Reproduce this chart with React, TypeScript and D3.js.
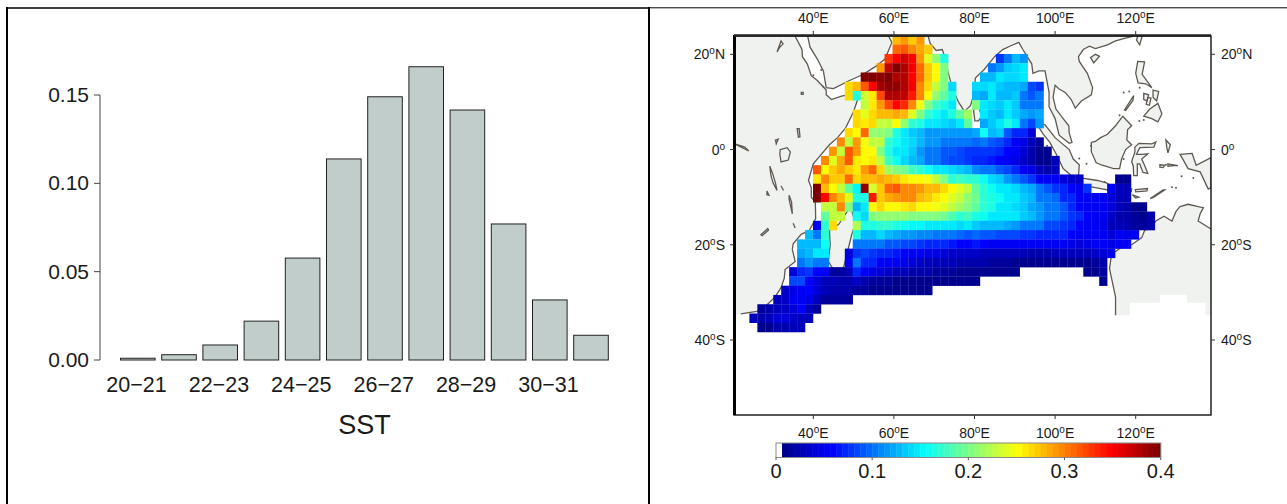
import React from "react";
import * as d3 from "d3";

const _ = null;
// ---------- left panel data
const sstBins = ["20-21","21-22","22-23","23-24","24-25","25-26","26-27","27-28","28-29","29-30","30-31","31-32"];
const sstShown = ["20\u221221","","22\u221223","","24\u221225","","26\u221227","","28\u221229","","30\u221231",""];
const sstValues = [0.001,0.003,0.0085,0.022,0.0577,0.1138,0.149,0.166,0.1415,0.077,0.034,0.014];
const sstTicks = [0,0.05,0.1,0.15];

// ---------- right panel data: one list per grid row; first number = first column
const rowM1 = [10,.28,.29,.27,.29];
const row00 = [10,.31,.315,.30,.285,.27];
const row01 = [9,.33,.35,.365,.35,.29,.24,.21,.165,_,_,_,_,_,_,.08,.10,.125,.115];
const row02 = [8,.29,.37,.395,.38,.355,.31,.27,.255,.20,_,_,_,_,_,.105,.115,.135,.14,.145];
const row03 = [6,.40,.40,.39,.395,.38,.375,.35,.31,.27,.25,.20,_,_,_,_,.125,.13,.15,.14,.14,.145];
const row04 = [4,.265,.28,.315,.345,.385,.39,.39,.38,.355,.30,.265,.23,.20,.14,_,_,.14,.14,.15,.135,.13,.13,.12,.085,.08];
const row05 = [4,.265,.165,.235,.26,.32,.375,.38,.37,.34,.30,.25,.21,.19,.165,_,_,.125,.12,.15,.13,.13,.135,.10,.09,.10];
const row06 = [6,.23,.26,.29,.32,.345,.335,.30,.245,.20,.18,.165,.15,_,_,.20,.145,.14,.135,.145,.135,.105,.105,.105];
const row07 = [5,.265,.24,.265,.28,.28,.285,.275,.24,.20,.175,.16,.15,.165,.19,.215,_,.15,.135,.13,.15,.135,.12,.115,.12];
const row08 = [5,.265,.26,.265,.23,.23,.25,.21,.175,.165,.15,.145,.14,.135,.145,.19,_,.12,.135,.145,.165,.145,.105,.085,.115];
const row09 = [4,.265,.25,.31,.21,.21,.20,.165,.145,.135,.13,.115,.115,.115,.115,.115,.115,.12,.16,.125,.135,.09,.07,.07,.04];
const row10 = [3,.30,.225,.29,.245,.23,.23,.175,.16,.145,.14,.125,.115,.115,.105,.105,.105,.10,.095,.10,.09,.085,.07,.05,.045,.03,.015];
const row11 = [2,.29,.225,.315,.29,.25,.25,.205,.165,.15,.145,.135,.115,.105,.10,.09,.09,.085,.08,.08,.08,.08,.07,.06,.05,.04,.02,.01,.01];
const row12 = [1,.30,.24,.285,.315,.26,.25,.26,.225,.18,.16,.14,.125,.12,.105,.10,.09,.085,.085,.08,.07,.07,.065,.06,.055,.045,.035,.02,.01,.01,.03];
const row13 = [0,.315,.25,.27,.285,.27,.26,.29,.31,.265,.215,.20,.195,.18,.17,.16,.15,.145,.14,.135,.125,.11,.10,.10,.09,.085,.07,.05,.045,.03,.02,.03];
const row14 = [0,.26,.30,.27,.27,.31,.265,.275,.28,.285,.28,.27,.26,.255,.25,.245,.225,.20,.175,.18,.175,.17,.16,.14,.135,.115,.105,.09,.08,.055,.05,.05,.04,.035,.035,_,_,_,_,.01,.01];
const row15 = [0,.40,.28,.25,.225,.19,.155,.39,.235,.27,.31,.315,.30,.295,.29,.28,.28,.265,.25,.24,.225,.19,.17,.16,.15,.145,.14,.125,.12,.105,.09,.08,.07,.06,.05,.08,_,_,.055,.03,.03];
const row16 = [0,.40,.345,.30,.28,.24,.165,.165,.34,.27,.285,.29,.295,.295,.28,.27,.26,.25,.24,.225,.21,.195,.175,.165,.16,.15,.15,.135,.125,.105,.10,.095,.075,.07,.055,.06,.05,.05,.04,.03,.03];
const row17 = [1,.225,.225,.30,.20,.13,.15,.25,.265,.25,.255,.26,.265,.255,.25,.245,.24,.23,.215,.205,.19,.17,.165,.15,.15,.14,.135,.12,.115,.105,.105,.09,.075,.06,.055,.05,.055,.04,.03,.02,.012,.008];
const row18 = [1,.19,.225,.225,_,.16,.14,.20,.21,.21,.21,.21,.20,.20,.20,.20,.195,.185,.175,.18,.165,.16,.15,.15,.15,.15,.135,.125,.115,.105,.10,.09,.08,.07,.06,.055,.05,.035,.02,.02,.015,.01,.02];
const row19 = [0,.055,.175,.265,_,_,.22,.165,.165,.175,.17,.165,.16,.155,.155,.15,.15,.145,.145,.14,.145,.135,.13,.125,.125,.12,.115,.105,.10,.10,.085,.085,.08,.075,.06,.055,.05,.045,.03,.025,.02,.015,.015,.02];
const row20 = [-1,.125,.10,.17,_,_,_,.165,.13,.125,.14,.13,.12,.115,.115,.11,.11,.105,.10,.10,.095,.09,.095,.09,.09,.085,.085,.085,.08,.08,.075,.075,.075,.07,.06,.055,.055,.05,.05,.04,.05,.045,.05];
const row21 = [-2,.125,.13,.125,.16,_,_,_,.105,.105,.105,.10,.09,.09,.085,.085,.08,.075,.07,.07,.065,.06,.06,.065,.06,.055,.055,.05,.05,.05,.05,.05,.05,.05,.05,.045,.04,.045,.05,.05,.045,.05,.05];
const row22 = [-2,.12,.125,.145,.145,_,_,.04,.08,.085,.08,.075,.07,.065,.06,.055,.05,.045,.045,.04,.035,.035,.035,.035,.03,.03,.03,.025,.025,.025,.02,.02,.02,.025,.03,.03,.03,.03,.035,.04,.045];
const row23 = [-2,.105,.115,.105,.10,_,_,.05,.10,.075,.07,.06,.055,.05,.045,.04,.035,.03,.03,.025,.025,.02,.02,.02,.02,.015,.015,.015,.01,.01,.01,.008,.008,.008,.01,.01,.01,.01,.015,.02];
const row24 = [-3,.04,.075,.08,.06,.06,.015,.015,.03,.07,.05,.045,.04,.035,.03,.025,.02,.02,.02,.015,.015,.015,.01,.01,.01,.01,.008,.008,.008,.008,_,_,_,_,_,_,_,_,.01,.01,.015];
const row25 = [-3,.085,.085,.05,.04,.03,.025,.02,.02,.035,.02,.015,.015,.015,.01,.01,.01,.01,.01,.008,.008,.008,.008,.008,.008,_,_,_,_,_,_,_,_,_,_,_,_,_,_,_,.01];
const row26 = [-4,.035,.045,.055,.06,.04,.025,.02,.02,.02,.015,.015,.01,.01,.01,.01,.008,.008,.008,.008];
const row27 = [-5,.025,.035,.05,.05,.045,.025,.015,.015,.015,.015];
const row28 = [-7,.015,.02,.03,.035,.04,.06,.03,.015];
const row29 = [-8,.03,.02,.025,.04,.04,.035,.03,.025];
const row30 = [-7,.01,.01,.02,.02,.025,.03];
const gridRows = [rowM1,row00,row01,row02,row03,row04,row05,row06,row07,row08,row09,row10,row11,row12,row13,row14,row15,row16,row17,row18,row19,row20,row21,row22,row23,row24,row25,row26,row27,row28,row29,row30];

const lonTicks = [40,60,80,100,120];
const latTicks = [[20,"20","N"],[0,"0",""],[-20,"20","S"],[-40,"40","S"]];
const barTicks = [0,0.1,0.2,0.3,0.4];
const jetStops = ["#00008f","#0000ff","#00ffff","#ffff00","#ff0000","#800000"];
const jetDomain = [0,0.125,0.375,0.625,0.875,1];

// ---------- geography in lon/lat
const africa = [[35.5,23.8],[37.2,21],[37.3,19.5],[38.5,18],[39.5,15.5],[41,14.5],[43.2,12.5],[43.2,11.5],[44.5,10.5],[47,11.2],[51.2,11.9],[51,10.5],[50,8],[48,4.5],[46,2.5],[44,1],[41.5,-1.5],[40,-3],[39.3,-5],[38.8,-6.5],[39.5,-8],[39.5,-10],[40.5,-11],[40.6,-14.5],[39,-17],[37,-17.8],[35,-19.8],[34.8,-21],[35.5,-23.5],[33,-25.2],[32.8,-27],[32,-29],[30.5,-31],[28,-33],[26,-34],[22,-34.5],[20.3,-34.8],[20.3,23.8]];
const arabia = [[38.6,23.8],[39.2,21.5],[41,19],[42.5,16.5],[43.2,13],[45,12.8],[49,14.5],[52.2,15.7],[55.2,17.3],[57.8,19],[59.5,22.5],[58.7,23.8]];
const asia = [[68.5,23.8],[69,22.3],[70.5,20.8],[72,21],[72.8,19],[73.5,16],[74.5,13],[76,10],[77.5,8],[79,9.2],[80,12],[80.2,15],[82.3,16.7],[85,19.5],[87,21],[89,21.8],[91,22.5],[92,21],[94.2,18],[94.5,16],[96,16.5],[97.5,16.5],[98.5,12],[98.5,9],[100,6.5],[101,3],[103.5,1.3],[104.2,1.5],[103.5,3.5],[103.4,5],[102,6.5],[100.2,8.5],[99.5,11],[100,13.5],[101,12.7],[102.5,12],[104,10.5],[105,8.7],[106.5,10.2],[109,11.5],[109.3,13],[108,16],[106,18.5],[105.8,19.5],[107,21],[108.5,21.7],[110,21.2],[113,22],[115,22.8],[117,23.3],[119.5,23.8]];
const madagascar = [[49.3,-12],[50.4,-15.5],[49.5,-18],[47.5,-24.8],[45.2,-25.5],[43.7,-23.5],[44.2,-20],[44,-17],[46.3,-15.7],[48,-13.5]];
const sriLanka = [[80,9.7],[81.2,8.5],[81.8,7],[81,6],[80.1,6],[79.8,8]];
const sumatra = [[95.3,5.6],[97.5,5.2],[100,2.5],[103.5,0],[104.5,-2],[106,-3.2],[105.8,-5.8],[104.5,-5.8],[102,-4],[100.3,-1],[98.7,1.5],[97,3.3]];
const java = [[105.2,-6.8],[106.8,-6],[110.5,-6.5],[112.7,-7],[114.4,-7.8],[114.4,-8.7],[110,-8],[106.5,-7.5]];
const borneo = [[109,1.5],[110,1.7],[111.3,2.5],[113,3.2],[115,5],[116.8,7],[119,5],[118,4.2],[117.8,2],[119,1],[117.5,0],[116.5,-2],[116,-4],[114.5,-4],[111.7,-3.3],[110.2,-2.8],[109,-0.5]];
const sulawesi = [[119.8,0.5],[120.8,1.3],[124,1.2],[125,1.6],[124.5,0.5],[121,0.4],[120.2,-1],[121.5,-1],[123,-0.9],[121.5,-2],[122.3,-3.5],[123,-5],[121.8,-4.8],[121,-3],[120.4,-3],[120.4,-5.5],[119.5,-5.5],[119.4,-3.5],[119,-2.5],[119.8,-0.5]];
const luzon = [[120.5,18.5],[122.2,18.4],[121.6,15.8],[124,13],[122.5,13.8],[120.6,14],[120,16]];
const mindanao = [[122,7],[123.5,8.5],[125.5,9.7],[126.5,7.5],[125.5,5.8],[124,6.5]];
const palawan = [[117.2,8.3],[119.5,11.3],[119.3,10.3],[117.5,8.2]];
const panay = [[122,11.8],[123.2,11.5],[122.8,10.2],[122,10.5]];
const leyte = [[124.3,12.5],[125.7,12.2],[125.2,10.2],[124.3,11]];
const cebu = [[123,10.9],[123.8,10.8],[123.4,9.3],[122.6,9.5]];
const taiwan = [[120.2,23],[121,22],[121.6,23.8],[120.5,23.8]];
const hainan = [[108.8,19.3],[110,20],[111,19.6],[109.6,18.2]];
const newGuinea = [[131,-1],[134,-0.8],[135,-3.3],[138.7,-1.7],[138.7,-8],[138,-8.3],[136,-4.7],[133,-4],[132,-2.5]];
const halmahera = [[127.5,2],[128.6,1],[128,-0.7],[127.7,0.5]];
const seram = [[128,-3],[130.5,-3.4],[129.5,-3.4],[128,-3.5]];
const buru = [[126,-3.2],[127.2,-3.3],[126.8,-3.8],[126,-3.7]];
const timor = [[123.6,-10.3],[126.8,-8.5],[127.2,-8.5],[124.5,-10]];
const flores = [[119.9,-8.4],[122.9,-8.2],[122.8,-8.7],[120,-8.9]];
const sumbawa = [[116.1,-8.4],[119,-8.3],[118.9,-8.8],[116.1,-9]];
const sumba = [[119.2,-9.5],[120.8,-10],[120,-10.2]];
const australia = [[115,-34.8],[115,-31],[114,-27],[113.5,-25],[114,-22],[116.5,-20.5],[119,-20],[121.5,-18.5],[122.2,-17],[124,-16.3],[125,-15],[127,-14],[129,-15],[130,-13],[131,-12],[133,-11.5],[135.5,-12],[136.8,-12.2],[136,-13.5],[135.5,-15],[138.7,-16.7]];
const australiaMask = [[138.7,-16.7],[138.7,-34.8],[137.3,-34.8],[137.3,-32.2],[132.7,-32.2],[132.7,-30.5],[126,-30.5],[126,-32.2],[118.6,-32.2],[118.6,-34.8],[115,-34.8]];
const coastShapes = [africa.slice(0,36),arabia,asia,madagascar,sriLanka,sumatra,java,borneo,sulawesi,luzon,mindanao,palawan,panay,leyte,cebu,taiwan,hainan,newGuinea,halmahera,seram,buru,timor,flores,sumbawa,sumba,australia];
const landShapes = [africa,arabia,asia,madagascar,sriLanka,sumatra,java,borneo,sulawesi,luzon,mindanao,palawan,panay,leyte,cebu,taiwan,hainan,newGuinea,halmahera,seram,buru,timor,flores,sumbawa,sumba,[...australia,...australiaMask]];
const openCoastCount = 3;

const lakeVictoria = [[31.8,0],[33.5,0.4],[34.3,-0.5],[33.8,-2.2],[32,-2.6],[31.7,-1]];
const lakeTanganyika = [[29.2,-3.5],[29.5,-5.5],[30,-7],[31,-8.6],[30.6,-7],[29.9,-5]];
const lakeMalawi = [[34,-9.6],[34.6,-11],[34.8,-13.5],[34.4,-12],[34,-10.5]];
const lakeKariba = [[27,-17.9],[28.7,-16.6],[28.9,-16.9],[27.3,-18.1]];
const lakeTurkana = [[36,4.4],[36.3,2.6],[36.7,2.7],[36.5,4.4]];
const lakeTana = [[37,12],[37.5,12],[37.5,11.6],[37,11.6]];
const lakeNasser = [[32.5,22.2],[31.6,21.4],[31,20.5],[32,22.8]];
const nileBend = [[20.5,1.2],[23,0.5],[24,-0.3]];
const lakeNyasaS = [[35,-15.5],[35.5,-16.5]];
const lakeMweru = [[28.5,-8.7],[29,-9.6],[28.5,-9.5]];
const lakeAlbert = [[30.6,2],[31.3,2.2],[30.8,1.2]];
const lakeRukwa = [[32,-7.6],[32.6,-8.6]];
const inlandLines = [lakeVictoria,lakeTanganyika,lakeMalawi,lakeKariba,lakeTurkana,lakeTana,lakeNasser,nileBend,lakeNyasaS,lakeMweru,lakeAlbert,lakeRukwa];
const specks = [[53.8,12.5],[46,-9.4],[43.3,-11.7],[44.3,-12.2],[45.1,-12.8],[55.5,-4.6],[53.2,-6.5],[55.5,-21.1],[57.6,-20.2],[63.4,-19.7],[42.5,13.2],[40,15.6],[42,16.7],[73,4.2],[73.4,7],[72.6,10.8],[92.8,12.5],[92.6,11.6],[93,8],[93.8,7],[98,0.8],[99.2,-1.5],[100.5,-2.8],[107.8,-3],[106,-1.9],[116,7.2],[117,-2],[127.5,-3.2],[131.4,-5.6],[134.3,-6],[118.4,12.2],[121,13],[120.9,6],[122,6.2],[108.9,0.8],[117,12],[115.6,-8.4],[112.3,-6.8],[130,-8],[113.5,-22.5],[129,-7.9]];

const W = 1287, H = 504;
const frame = { left: 734, right: 1211, top: 36, bottom: 415 };

const Sup = ({ main, tail }: { main: string; tail: string }) => (
  <>
    <tspan>{main}</tspan>
    <tspan dy={-5} fontSize={10}>o</tspan>
    <tspan dy={5}>{tail}</tspan>
  </>
);

export default function App() {
  const bandX = d3.scaleLinear().domain([0, 1]).range([120.5, 161.7]);
  const y = d3.scaleLinear().domain([0, 0.15]).range([360, 95]);
  const lonX = d3.scaleLinear().domain([40, 120]).range([813.3, 1135.7]);
  const latY = d3.scaleLinear().domain([20, -40]).range([54.3, 340]);
  const colX = d3.scaleLinear().domain([0, 1]).range([813, 820.95]);
  const rowY = d3.scaleLinear().domain([0, 1]).range([35.4, 44.67]);
  const jet = d3.scaleLinear<string>().domain(jetDomain).range(jetStops).interpolate(d3.interpolateRgb);
  const levels = 64;
  const colorOf = (v: number) => {
    const i = Math.max(1, Math.min(levels - 1, Math.floor((v / 0.4) * levels)));
    return jet((i - 1) / (levels - 2));
  };
  const cbX = d3.scaleLinear().domain([0, 0.4]).range([776, 1160.7]);
  const line = d3.line<number[]>().x((d) => lonX(d[0])).y((d) => latY(d[1]));
  const ink = "#1a1a1a";
  const arial = "'Liberation Sans', Arial, sans-serif";
  const coast = "#5f5951";

  return (
    <svg width={W} height={H} style={{ position: "absolute", left: 0, top: 0, display: "block" }} fontFamily={arial}>
      <rect width={W} height={H} fill="#fff" />
      <line x1={7} x2={650} y1={8} y2={8} stroke="#000" strokeWidth={1.6} />
      <line x1={650} x2={W} y1={7.8} y2={7.8} stroke="#000" strokeWidth={1} />
      <line x1={7} x2={7} y1={7} y2={H} stroke="#000" strokeWidth={2} />
      <line x1={649} x2={649} y1={7} y2={H} stroke="#000" strokeWidth={2} />

      {sstValues.map((v, i) => (
        <rect key={sstBins[i]} x={bandX(i)} y={y(v)} width={34.6} height={360 - y(v)} fill="#c1cdca" stroke="#222" strokeWidth={1} />
      ))}
      <line x1={100} x2={100} y1={y(0.15)} y2={y(0)} stroke="#444" />
      {sstTicks.map((t) => (
        <g key={t}>
          <line x1={94} x2={100} y1={y(t)} y2={y(t)} stroke="#444" />
          <text x={89} y={y(t) + 7} textAnchor="end" fontSize={21} fill={ink}>{t.toFixed(2)}</text>
        </g>
      ))}
      {sstShown.map((s, i) => s && (
        <text key={s} x={bandX(i) + 16} y={392} textAnchor="middle" fontSize={21.5} fill={ink}>{s}</text>
      ))}
      <text x={364.5} y={434} textAnchor="middle" fontSize={27} fill={ink}>SST</text>

      <defs>
        <clipPath id="mapClip"><rect x={frame.left} y={frame.top} width={frame.right - frame.left} height={frame.bottom - frame.top} /></clipPath>
        <filter id="soft" filterUnits="userSpaceOnUse" x={700} y={20} width={540} height={420}>
          <feGaussianBlur stdDeviation={0.45} />
        </filter>
      </defs>
      <g clipPath="url(#mapClip)">
        <g filter="url(#soft)">
          {landShapes.map((s, i) => (
            <path key={i} d={line(s) + "Z"} fill="#f0f2f0" stroke="none" />
          ))}
          {coastShapes.map((s, i) => (
            <path key={i} d={(line(s) as string) + (i < openCoastCount || s === australia ? "" : "Z")} fill="none" stroke={coast} strokeWidth={1.3} />
          ))}
          {inlandLines.map((s, i) => (
            <path key={i} d={line(s) + (s.length > 2 ? "Z" : "")} fill="none" stroke={coast} strokeWidth={1.3} />
          ))}
          {specks.map((p, i) => (
            <circle key={i} cx={lonX(p[0])} cy={latY(p[1])} r={1} fill={coast} />
          ))}
          {gridRows.map((row, r) =>
            row.slice(1).map((v, j) =>
              v == null ? null : (
                <rect key={r + "-" + j} x={colX((row[0] as number) + j)} y={rowY(r)} width={8.2} height={9.5} fill={colorOf(v)} />
              )
            )
          )}
        </g>
      </g>
      <rect x={frame.left} y={frame.top} width={frame.right - frame.left} height={frame.bottom - frame.top} fill="none" stroke="#111" strokeWidth={1.4} />
      <line x1={frame.left + 0.5} x2={frame.left + 0.5} y1={frame.top - 1} y2={frame.bottom} stroke="#000" strokeWidth={3} />
      <line x1={frame.left} x2={frame.right} y1={frame.top - 0.5} y2={frame.top - 0.5} stroke="#222" strokeWidth={2.4} />

      {lonTicks.map((lon) => (
        <g key={lon}>
          <line x1={lonX(lon)} x2={lonX(lon)} y1={31} y2={36} stroke="#333" />
          <line x1={lonX(lon)} x2={lonX(lon)} y1={415} y2={419} stroke="#333" />
          <text x={lonX(lon)} y={23} textAnchor="middle" fontSize={14} fill={ink}><Sup main={String(lon)} tail="E" /></text>
          <text x={lonX(lon)} y={438} textAnchor="middle" fontSize={14} fill={ink}><Sup main={String(lon)} tail="E" /></text>
        </g>
      ))}
      {latTicks.map((t) => {
        const py = latY(t[0] as number);
        return (
          <g key={String(t[0])}>
            <line x1={730} x2={734} y1={py} y2={py} stroke="#333" />
            <line x1={1211} x2={1215} y1={py} y2={py} stroke="#333" />
            <text x={725} y={py + 5} textAnchor="end" fontSize={14} fill={ink}><Sup main={t[1] as string} tail={t[2] as string} /></text>
            <text x={1221} y={py + 5} fontSize={14} fill={ink}><Sup main={t[1] as string} tail={t[2] as string} /></text>
          </g>
        );
      })}

      {d3.range(levels).map((i) => {
        const v0 = (i / levels) * 0.4;
        const v1 = ((i + 1) / levels) * 0.4;
        return (
          <rect key={i} x={cbX(v0)} y={443} width={cbX(v1) - cbX(v0) + 0.4} height={14.5} fill={i === 0 ? "#fff" : colorOf(v0 + 0.001)} />
        );
      })}
      <rect x={776} y={443} width={384.7} height={14.5} fill="none" stroke="#888" strokeWidth={1} />
      {barTicks.map((t) => (
        <g key={t}>
          <line x1={cbX(t)} x2={cbX(t)} y1={457.5} y2={460} stroke="#555" />
          <text x={cbX(t)} y={478} textAnchor="middle" fontSize={20} fill={ink}>{t === 0 ? "0" : String(t)}</text>
        </g>
      ))}
    </svg>
  );
}
